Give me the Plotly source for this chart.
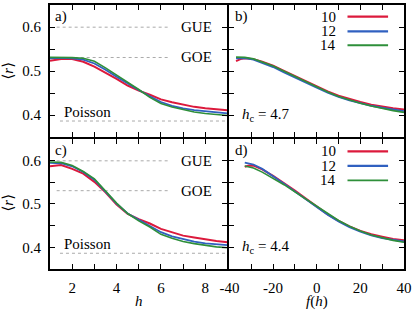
import plotly.graph_objects as go

# ---------------- data ----------------
sizes = ["10", "12", "14"]
colors = ["#dc1a3c", "#3060c0", "#2e8f3a"]
widths = [2.0, 1.8, 1.6]

h_vals = [1.0, 1.5, 2.0, 2.5, 3.0, 3.5, 4.0, 4.5, 5.0, 5.5, 6.0, 6.5, 7.0, 7.5, 8.0, 8.5, 9.0]

# panel a  (h_c = 4.7)
r_a = {
    "10": [0.523, 0.5275, 0.527, 0.521, 0.510, 0.4965, 0.482, 0.467, 0.4555, 0.446, 0.4355, 0.429, 0.4235, 0.4185, 0.4155, 0.413, 0.411],
    "12": [0.529, 0.530, 0.529, 0.526, 0.517, 0.503, 0.487, 0.471, 0.457, 0.4425, 0.4295, 0.421, 0.415, 0.411, 0.408, 0.4055, 0.4035],
    "14": [0.531, 0.531, 0.5305, 0.529, 0.522, 0.507, 0.491, 0.474, 0.458, 0.440, 0.426, 0.418, 0.412, 0.407, 0.4035, 0.401, 0.399],
}
# panel c  (h_c = 4.4)
r_c = {
    "10": [0.587, 0.590, 0.581, 0.570, 0.551, 0.527, 0.499, 0.477, 0.465, 0.455, 0.4425, 0.434, 0.427, 0.4225, 0.418, 0.4145, 0.4115],
    "12": [0.595, 0.594, 0.587, 0.574, 0.556, 0.529, 0.501, 0.478, 0.463, 0.450, 0.435, 0.4255, 0.4185, 0.413, 0.409, 0.4065, 0.405],
    "14": [0.597, 0.596, 0.589, 0.575, 0.558, 0.530, 0.502, 0.478, 0.461, 0.447, 0.430, 0.421, 0.4135, 0.4085, 0.404, 0.401, 0.399],
}

f_b = [-37, -35, -33, -29, -25, -20, -15, -10, -5, 0, 5, 10, 15, 20, 25, 30, 35, 40]
r_b = {
    "10": [0.5225, 0.527, 0.529, 0.527, 0.521, 0.512, 0.500, 0.488, 0.476, 0.4645, 0.4535, 0.444, 0.436, 0.4295, 0.4235, 0.419, 0.4155, 0.4125],
    "12": [0.529, 0.5295, 0.5295, 0.526, 0.519, 0.509, 0.497, 0.485, 0.4735, 0.462, 0.451, 0.441, 0.433, 0.4265, 0.421, 0.4165, 0.4125, 0.409],
    "14": [0.5315, 0.5315, 0.531, 0.5275, 0.521, 0.5115, 0.4995, 0.4875, 0.4755, 0.464, 0.4525, 0.442, 0.4335, 0.4265, 0.4205, 0.415, 0.410, 0.406],
}

f_d = [-33, -31, -29, -25, -20, -15, -10, -5, 0, 5, 10, 15, 20, 25, 30, 35, 40]
r_d = {
    "10": [0.586, 0.589, 0.5885, 0.580, 0.565, 0.549, 0.531, 0.5125, 0.4935, 0.476, 0.461, 0.4485, 0.438, 0.430, 0.4245, 0.4195, 0.4163],
    "12": [0.5955, 0.594, 0.591, 0.581, 0.5645, 0.547, 0.529, 0.5105, 0.492, 0.475, 0.4595, 0.4465, 0.436, 0.4275, 0.421, 0.4165, 0.4135],
    "14": [0.5875, 0.586, 0.583, 0.5735, 0.5595, 0.5445, 0.528, 0.511, 0.494, 0.4775, 0.462, 0.4485, 0.4375, 0.4285, 0.4215, 0.416, 0.4118],
}

ref_names = ["GUE", "GOE", "Poisson"]
ref_values = [0.5996, 0.5307, 0.3863]
hc_labels = ["4.7", "4.4"]
panel_labels = ["a)", "b)", "c)", "d)"]

y_tickvals = [0.35, 0.4, 0.45, 0.5, 0.55, 0.6, 0.65]
y_ticktext = ["", "0.4", "", "0.5", "", "0.6", ""]
h_tickvals = [1, 2, 3, 4, 5, 6, 7, 8, 9]
h_ticktext = ["", "2", "", "4", "", "6", "", "8", ""]
f_tickvals = [-40, -30, -20, -10, 0, 10, 20, 30, 40]
f_ticktext = ["-40", "", "-20", "", "0", "", "20", "", "40"]

# ---------------- figure ----------------
FONT = "Liberation Serif, Times New Roman, DejaVu Serif, serif"
fig = go.Figure()

panels = [
    ("x", "y", h_vals, r_a),
    ("x2", "y2", f_b, r_b),
    ("x3", "y3", h_vals, r_c),
    ("x4", "y4", f_d, r_d),
]
for xa, ya, xs, data in panels:
    for s, c, w in zip(sizes, colors, widths):
        fig.add_trace(go.Scatter(x=xs, y=data[s], mode="lines", xaxis=xa, yaxis=ya,
                                 line=dict(color=c, width=w), showlegend=False,
                                 hoverinfo="skip"))

LW = 2            # plotly rounds axis line widths > 1 to integers
ML, MR, MT, MB = 50, 10, 3, 42
PW, PH = 415.0 - ML - MR, 311.0 - MT - MB
xsplit = 178 / PW
xr0 = xsplit + LW / PW          # right column start so divider lines coincide
ysplit = 133 / PH
yb1 = ysplit - LW / PH          # bottom row top so divider lines coincide

common = dict(showline=True, linecolor="black", linewidth=LW, mirror="ticks",
              ticks="inside", ticklen=5, tickwidth=1, tickcolor="black",
              showgrid=False, zeroline=False,
              tickfont=dict(family=FONT, size=15, color="black"))

def yax(domain, labels, anchor):
    d = dict(common)
    d.update(range=[0.35, 0.65], domain=domain, anchor=anchor, tickmode="array",
             tickvals=y_tickvals, ticktext=y_ticktext if labels else [""] * len(y_tickvals),
             ticklabelstandoff=4)
    return d

def xax(domain, rng, tv, tt, labels, anchor):
    d = dict(common)
    d.update(range=rng, domain=domain, anchor=anchor, tickmode="array",
             tickvals=tv, ticktext=tt if labels else [""] * len(tv),
             ticklabelstandoff=4)
    return d

fig.update_layout(
    width=415, height=311,
    margin=dict(l=ML, r=MR, t=MT, b=MB),
    paper_bgcolor="white", plot_bgcolor="white",
    font=dict(family=FONT, size=15, color="black"),
    xaxis=xax([0, xsplit], [1, 9], h_tickvals, h_ticktext, False, "y"),
    yaxis=yax([ysplit, 1], True, "x"),
    xaxis2=xax([xr0, 1], [-40, 40], f_tickvals, f_ticktext, False, "y2"),
    yaxis2=yax([ysplit, 1], False, "x2"),
    xaxis3=xax([0, xsplit], [1, 9], h_tickvals, h_ticktext, True, "y3"),
    yaxis3=yax([0, yb1], True, "x3"),
    xaxis4=xax([xr0, 1], [-40, 40], f_tickvals, f_ticktext, True, "y4"),
    yaxis4=yax([0, yb1], False, "x4"),
)

shapes = []
annotations = []

# reference lines and their labels in panels a and c
for xr, yr in [("x", "y"), ("x3", "y3")]:
    for name, val in zip(ref_names, ref_values):
        if name == "Poisson":
            x0, x1 = 1.45, 9
            annotations.append(dict(x=1.52, y=0.407, xref=xr, yref=yr, text=name,
                                    showarrow=False, xanchor="left", yanchor="middle",
                                    font=dict(family=FONT, size=15)))
        else:
            x0, x1 = 1.3, 6.4
            annotations.append(dict(x=7.6, y=val, xref=xr, yref=yr, text=name,
                                    showarrow=False, xanchor="center", yanchor="middle",
                                    font=dict(family=FONT, size=15)))
        shapes.append(dict(type="line", xref=xr, yref=yr, x0=x0, x1=x1, y0=val, y1=val,
                           line=dict(color="#aaaaaa", width=1, dash="dot"), layer="below"))

# panel letters
for lab, xr, yr, xv in zip(panel_labels, ["x", "x2", "x3", "x4"], ["y", "y2", "y3", "y4"],
                           [1.12, -38.6, 1.12, -38.6]):
    annotations.append(dict(x=xv, y=0.623, xref=xr, yref=yr, text=lab, showarrow=False,
                            xanchor="left", yanchor="middle", font=dict(family=FONT, size=15)))

# h_c labels
for lab, xr, yr in zip(hc_labels, ["x2", "x4"], ["y2", "y4"]):
    annotations.append(dict(x=-35.2, y=0.401, xref=xr, yref=yr,
                            text="<i>h</i><sub>c</sub> = " + lab, showarrow=False,
                            xanchor="left", yanchor="middle", font=dict(family=FONT, size=15)))

# legends in panels b and d
for xr, yr, ys in [("x2", "y2", [0.6236, 0.590, 0.5584]), ("x4", "y4", [0.6216, 0.588, 0.5544])]:
    for s, c, w, yv in zip(sizes, colors, widths, ys):
        annotations.append(dict(x=9.8, y=yv, xref=xr, yref=yr, text=s, showarrow=False,
                                xanchor="right", yanchor="middle", font=dict(family=FONT, size=15)))
        shapes.append(dict(type="line", xref=xr, yref=yr, x0=14.1, x1=32.7, y0=yv, y1=yv,
                           line=dict(color=c, width=w + 0.3)))

# axis titles
for yc in [0.75, 0.25]:
    annotations.append(dict(x=-0.12, y=yc, xref="paper", yref="paper", text="⟨<i>r</i>⟩",
                            textangle=-90, showarrow=False, xanchor="center", yanchor="middle",
                            font=dict(family=FONT, size=15)))
annotations.append(dict(x=xsplit / 2, y=-0.123, xref="paper", yref="paper", text="<i>h</i>",
                        showarrow=False, xanchor="center", yanchor="middle",
                        font=dict(family=FONT, size=15)))
annotations.append(dict(x=(1 + xr0) / 2, y=-0.123, xref="paper", yref="paper",
                        text="<i>f</i>(<i>h</i>)", showarrow=False, xanchor="center",
                        yanchor="middle", font=dict(family=FONT, size=15)))

fig.update_layout(shapes=shapes, annotations=annotations)
fig.write_html("out.html", config={"displayModeBar": False},
               post_script="document.body.style.margin='0px';")
